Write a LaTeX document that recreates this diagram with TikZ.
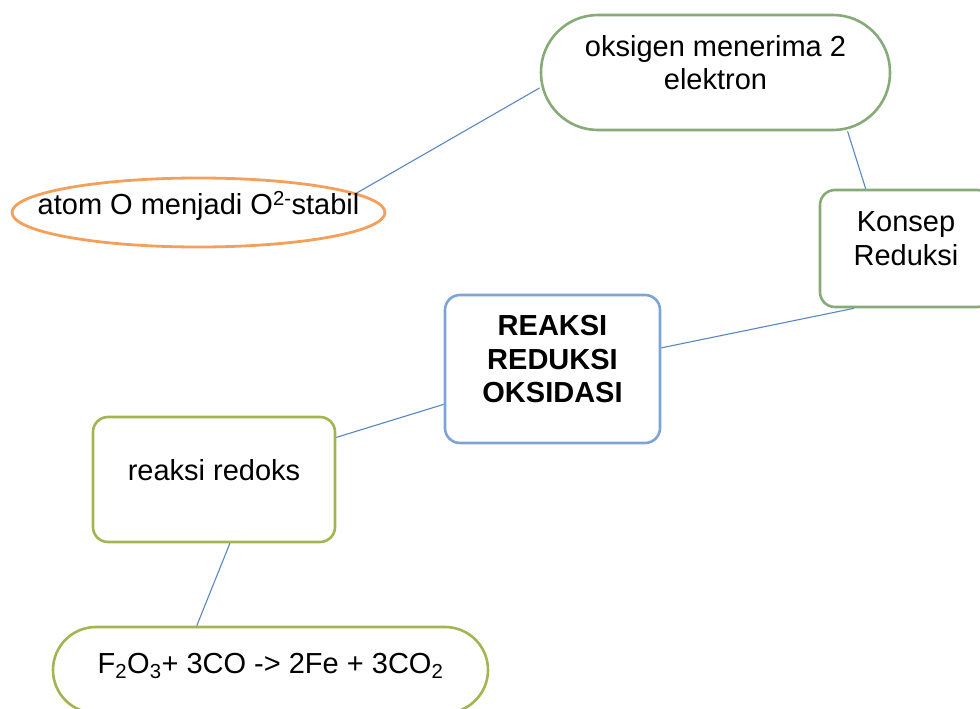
\documentclass[tikz,border=0pt]{standalone}
\usepackage{fontspec}
\setmainfont{Liberation Sans}
\usetikzlibrary{shapes.geometric}

\definecolor{linkblue}{HTML}{5A87C2}
\definecolor{boxblue}{HTML}{7EA3D6}
\definecolor{ovalorange}{HTML}{F5A05A}
\definecolor{sagegreen}{HTML}{86AA78}
\definecolor{olivegreen}{HTML}{A3B450}

\begin{document}
\begin{tikzpicture}[x=1pt,y=-1pt,
  font=\fontsize{29}{33.5}\selectfont,
  box/.style={draw,line width=2.6pt,rounded corners=15pt,align=center,
    inner sep=0pt,text depth=20pt},
  link/.style={draw=linkblue,line width=1.1pt}]

% page frame
\useasboundingbox (0,0) rectangle (980,709);

% Oval on the left
\node[draw=ovalorange,ellipse,line width=2.8pt,inner xsep=-40pt,inner ysep=0pt,
  minimum width=373,minimum height=69,text depth=20pt]
  (atom) at (198.5,212.5) {atom O menjadi O\textsuperscript{2-}stabil};

% Top pill
\node[box,draw=sagegreen,rounded corners=57pt,minimum width=349,minimum height=115]
  (oks) at (715.5,72.5) {oksigen menerima 2\\elektron};

% Concept box, cut by the right edge
\node[box,draw=sagegreen,minimum width=172,minimum height=117]
  (kon) at (906,248.5) {Konsep\\Reduksi};

% Main box
\node[box,draw=boxblue,minimum width=215,minimum height=148,font=\fontsize{29}{33.5}\selectfont\bfseries]
  (rea) at (552.5,369) {REAKSI\\REDUKSI\\OKSIDASI};

% Redox box
\node[box,draw=olivegreen,minimum width=242,minimum height=125]
  (red) at (214,479.5) {reaksi redoks};

% Bottom pill
\node[box,draw=olivegreen,rounded corners=43pt,minimum width=435,minimum height=86,
  text depth=14pt]
  (fe) at (270.5,670)
  {F\textsubscript{2}O\textsubscript{3}+ 3CO -> 2Fe + 3CO\textsubscript{2}};

% Links
\draw[link] (atom.7) -- (oks.185);
\draw[link] (oks.-24) -- (kon.124);
\draw[link] (kon.229) -- (rea.11);
\draw[link] (rea.198) -- (red.19);
\draw[link] (red.284) -- (fe.149);

\end{tikzpicture}
\end{document}
